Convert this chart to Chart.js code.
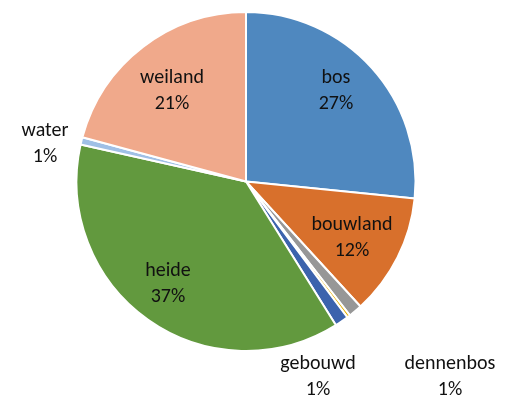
<!DOCTYPE html>
<html>
<head>
<meta charset="utf-8">
<script src="https://cdn.jsdelivr.net/npm/chart.js@4"></script>
<style>
  html, body { margin: 0; padding: 0; background: #fff; }
  #wrap { width: 517px; height: 398px; position: relative; }
</style>
</head>
<body>
<div id="wrap"><canvas id="c"></canvas></div>
<script>
// Land use shares (percent of total area)
const categories = ['bos', 'bouwland', 'dennenbos', 'overig', 'gebouwd', 'heide', 'water', 'weiland'];
const shares     = [26.6, 11.6, 1.3, 0.3, 1.3, 37.4, 0.7, 20.8];
// Which slices carry a data label
const labelled   = [true, true, true, false, true, true, true, true];

const sliceColors = ['#4F88BF', '#D8702C', '#979797', '#E9B100', '#3C63AD', '#62993E', '#A0C0E6', '#F0A98B'];

// Label block offsets (px) from the pie centre
const labelOffsets = {
  bos: [90, -91], weiland: [-74, -91], bouwland: [106, 56], heide: [-78, 102],
  water: [-201, -38], gebouwd: [72, 195], dennenbos: [204, 195]
};

const labelPlugin = {
  id: 'sliceLabels',
  afterDatasetsDraw(chart) {
    const ctx = chart.ctx;
    const meta = chart.getDatasetMeta(0);
    const data = chart.data.datasets[0].data;
    const total = data.reduce((a, b) => a + b, 0);
    ctx.save();
    ctx.font = '20px Carlito, Calibri, Lato, sans-serif';
    ctx.fillStyle = '#111';
    ctx.textAlign = 'center';
    ctx.textBaseline = 'middle';
    meta.data.forEach((arc, i) => {
      if (!labelled[i]) return;
      const name = chart.data.labels[i];
      const off = labelOffsets[name];
      const x = arc.x + off[0];
      const y = arc.y + off[1];
      const pct = Math.round(data[i] / total * 100) + '%';
      ctx.fillText(name, x, y - 13);
      ctx.fillText(pct, x, y + 13);
    });
    ctx.restore();
  }
};

new Chart(document.getElementById('c'), {
  type: 'pie',
  data: {
    labels: categories,
    datasets: [{
      data: shares,
      backgroundColor: sliceColors,
      borderColor: '#ffffff',
      borderWidth: 2,
      hoverOffset: 0
    }]
  },
  options: {
    responsive: true,
    maintainAspectRatio: false,
    animation: false,
    layout: { padding: { left: 0, right: 25, top: 11, bottom: 46 } },
    plugins: {
      legend: { display: false },
      tooltip: { enabled: false }
    }
  },
  plugins: [labelPlugin]
});
</script>
</body>
</html>
